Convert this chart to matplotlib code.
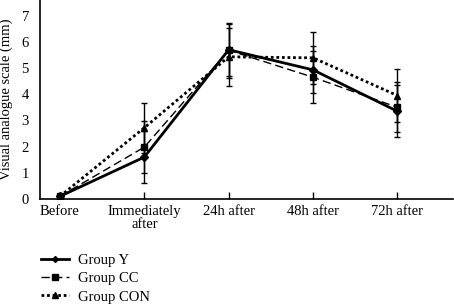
import matplotlib.pyplot as plt
from matplotlib.lines import Line2D

# ==========================================================
# DADOS
# ==========================================================

momentos = ["Before", "Immediately\nafter", "24h after", "48h after", "72h after"]

grupo_y = [0.1, 1.6, 5.7, 4.93, 3.35]
grupo_y_err = [0.05, 1.0, 1.0, 0.9, 1.0]

grupo_cc = [0.1, 1.98, 5.68, 4.65, 3.5]
grupo_cc_err = [0.05, 1.0, 1.05, 1.0, 0.95]

grupo_con = [0.1, 2.72, 5.43, 5.39, 3.95]
grupo_con_err = [0.05, 0.95, 1.1, 1.0, 1.0]

plt.rcParams["font.family"] = "Liberation Serif"

# ==========================================================
# GRÁFICO
# ==========================================================

fig = plt.figure(figsize=(4.54, 3.08), dpi=100)
ax = fig.add_axes([0.088, 0.354, 0.91, 0.646])

x = list(range(len(momentos)))

estilo_y = dict(color="black", lw=2, marker="D", ms=4)
estilo_cc = dict(color="black", lw=1, ls=(0, (6, 3)), marker="s", ms=5)
estilo_con = dict(color="black", lw=2, ls=(0, (1, 1)), marker="^", ms=5)

ax.errorbar(x, grupo_y, yerr=grupo_y_err, capsize=2, elinewidth=1,
            capthick=1, zorder=3, **estilo_y)
ax.errorbar(x, grupo_cc, yerr=grupo_cc_err, capsize=2, elinewidth=1,
            capthick=1, zorder=2, **estilo_cc)
ax.errorbar(x, grupo_con, yerr=grupo_con_err, capsize=2, elinewidth=1,
            capthick=1, zorder=2, **estilo_con)

ax.set_xlim(-0.237, 4.66)
ax.set_ylim(0, 7.6)
ax.set_yticks(range(0, 8))
ax.set_xticks(x)
ax.set_xticklabels(momentos, fontsize=10.5, linespacing=1.0)
ax.tick_params(axis="y", length=0, labelsize=10.5, pad=8)
ax.tick_params(axis="x", direction="in", length=5, width=1, pad=4)

ax.set_ylabel("Visual analogue scale (mm)", fontsize=10.5, labelpad=6)

ax.spines["top"].set_visible(False)
ax.spines["right"].set_visible(False)
ax.spines["left"].set_linewidth(1.2)
ax.spines["bottom"].set_linewidth(1.2)

# legenda sem as barras de erro
handles = [
    Line2D([], [], **{**estilo_y, "ms": 3}),
    Line2D([], [], **{**estilo_cc, "ms": 4}),
    Line2D([], [], **{**estilo_con, "ms": 4}),
]
labels = ["Group Y", "Group CC", "Group CON"]

fig.legend(handles, labels, loc="upper left", bbox_to_anchor=(0.075, 0.2),
           frameon=False, fontsize=10.5, handlelength=1.9,
           handletextpad=0.6, labelspacing=0.35, borderpad=0)

fig.savefig("out.png", dpi=100)
